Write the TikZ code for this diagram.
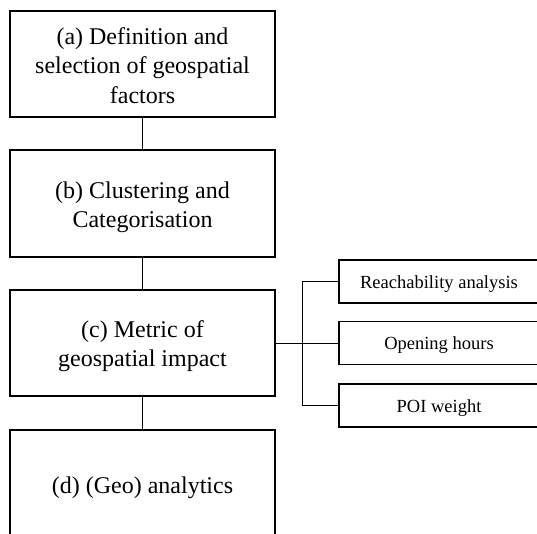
\documentclass[tikz,border=0pt]{standalone}
\usepackage{fontspec}
\setmainfont{Liberation Serif}
\begin{document}
\begin{tikzpicture}[x=1pt,y=-1pt,
  mainbox/.style={draw, line width=1.4pt, rectangle, minimum width=265pt, inner sep=0pt},
  maintext/.style={align=center, font=\fontsize{24}{29.5}\selectfont, inner sep=0pt},
  sidebox/.style={draw, line width=1.4pt, rectangle, minimum width=200pt, minimum height=43pt, inner sep=0pt},
  sidetext/.style={align=center, font=\fontsize{18.5}{22}\selectfont, inner sep=0pt},
  link/.style={line width=0.8pt}]
\clip (0,0) rectangle (537,533);
\fill[white] (0,0) rectangle (537,533);
\node[mainbox, minimum height=106pt] (a) at (142.5,64) {};
\node[mainbox, minimum height=107pt] (b) at (142.5,203.5) {};
\node[mainbox, minimum height=106pt] (c) at (142.5,343) {};
\node[mainbox, minimum height=110pt] (d) at (142.5,485) {};
\node[maintext] (ta) at ([yshift=-1.5pt]a.center) {(a) Definition and\\selection of geospatial\\factors};
\node[maintext] (tb) at ([yshift=-4pt]b.center) {(b) Clustering and\\Categorisation};
\node[maintext] (tc) at ([yshift=-3pt]c.center) {(c) Metric of\\geospatial impact};
\node[maintext] (td) at ([yshift=-3pt]d.center) {(d) (Geo) analytics};
\node[sidebox] (r1) at (439,281.5) {};
\node[sidebox] (r2) at (439,343) {};
\node[sidebox] (r3) at (439,405.5) {};
\node[sidetext] (t1) at ([yshift=-2.5pt]r1.center) {Reachability analysis};
\node[sidetext] (t2) at ([yshift=-2.5pt]r2.center) {Opening hours};
\node[sidetext] (t3) at ([yshift=-2.5pt]r3.center) {POI weight};
\draw[link] (a.south) -- (b.north);
\draw[link] (b.south) -- (c.north);
\draw[link] (c.south) -- (d.north);
\draw[link] (c.east) -- (r2.west);
\draw[link] (r1.west) -- ++(-36,0) coordinate (bt) |- (r3.west);
\end{tikzpicture}
\end{document}
